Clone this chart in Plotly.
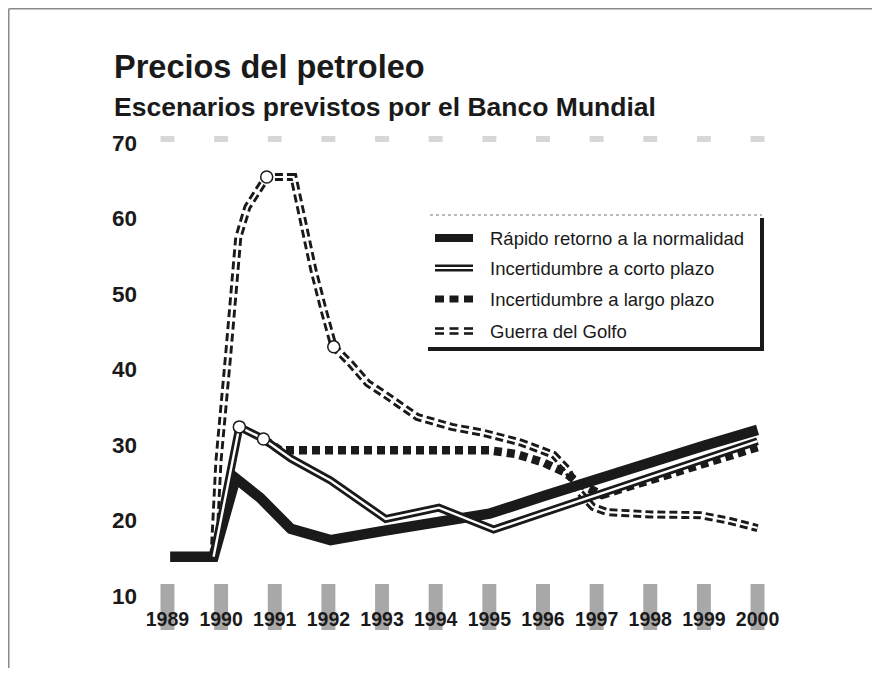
import plotly.graph_objects as go

# ---------------- data ----------------
years = [1989, 1990, 1991, 1992, 1993, 1994, 1995, 1996, 1997, 1998, 1999, 2000]
year_labels = [str(y) for y in years]
y_ticks = [10, 20, 30, 40, 50, 60, 70]

rapido_x = [1989.05, 1989.86, 1990.27, 1990.73, 1991.3, 1992.04, 1993, 1994, 1995, 1996, 1997, 1998, 1999, 2000]
rapido_y = [15.2, 15.2, 25.6, 23.0, 18.9, 17.4, 18.6, 19.6, 20.9, 23.2, 25.5, 27.7, 29.9, 32.0]

corto_x = [1989.86, 1990.34, 1990.79, 1991.3, 1992.04, 1993.07, 1994.06, 1995.08, 1996, 1997, 1998, 1999, 2000]
corto_y = [15.2, 32.4, 30.8, 28.2, 25.3, 20.2, 21.7, 18.8, 21.0, 23.4, 25.8, 28.1, 30.5]

largo_x = [1990.79, 1991.1, 1992, 1993, 1994, 1995, 1995.5, 1996, 1996.4, 1996.7, 1997.1, 1998, 1999, 2000]
largo_y = [30.8, 29.3, 29.3, 29.3, 29.3, 29.3, 28.8, 27.7, 26.4, 24.8, 23.4, 25.4, 27.6, 29.7]

guerra_x = [1989.86, 1989.95, 1990.14, 1990.32, 1990.49, 1990.85, 1991.35, 1991.44, 1991.72, 1991.91,
            1992.1, 1992.4, 1992.73, 1993.03, 1993.66, 1994.3, 1994.9, 1995.6, 1996.2, 1996.45,
            1996.65, 1996.93, 1997.2, 1998, 1998.94, 1999.45, 2000]
guerra_y = [15.2, 27.8, 42.6, 57.5, 61.5, 65.5, 65.5, 62.4, 53.2, 47.9,
            43.0, 40.9, 38.2, 36.8, 33.7, 32.4, 31.6, 30.3, 28.7, 26.8,
            24.0, 21.8, 21.1, 20.8, 20.7, 20.0, 19.0]

circle_corto_x = [1990.34, 1990.79]
circle_corto_y = [32.4, 30.8]
circle_guerra_x = [1990.85, 1992.1]
circle_guerra_y = [65.5, 43.0]

legend_names = ["Rápido retorno a la normalidad", "Incertidumbre a corto plazo",
                "Incertidumbre a largo plazo", "Guerra del Golfo"]

title_text = "Precios del petroleo"
subtitle_text = "Escenarios previstos por el Banco Mundial"

# ---------------- layout geometry ----------------
OFF = 8                      # page offset of the figure (body margin)
W, H = 880 - 2 * OFF, 676 - 2 * OFF
PW, PH = 633, 453
L, T = 146 - OFF, 143 - OFF
R = W - L - PW
B = H - T - PH
FONT = "Liberation Sans, Arial, Helvetica, sans-serif"
INK = "#1a1a1a"


def px(x):
    """page pixel x -> paper coordinate"""
    return (x - OFF - L) / PW


def py(y):
    """page pixel y -> paper coordinate"""
    return (H - B - (y - OFF)) / PH


fig = go.Figure()

# Guerra del Golfo: double dashed
fig.add_trace(go.Scatter(x=guerra_x, y=guerra_y, mode="lines",
                         line=dict(color=INK, width=8, dash="8px,4px"),
                         showlegend=False, hoverinfo="skip"))
fig.add_trace(go.Scatter(x=guerra_x, y=guerra_y, mode="lines",
                         line=dict(color="white", width=2.2),
                         showlegend=False, hoverinfo="skip"))
# Largo plazo: square dots
fig.add_trace(go.Scatter(x=largo_x, y=largo_y, mode="lines",
                         line=dict(color=INK, width=8.5, dash="8px,5px"),
                         showlegend=False, hoverinfo="skip"))
# Rápido retorno: thick solid
fig.add_trace(go.Scatter(x=rapido_x, y=rapido_y, mode="lines",
                         line=dict(color=INK, width=10.5),
                         showlegend=False, hoverinfo="skip"))
# Corto plazo: double line
fig.add_trace(go.Scatter(x=corto_x, y=corto_y, mode="lines",
                         line=dict(color=INK, width=8),
                         showlegend=False, hoverinfo="skip"))
fig.add_trace(go.Scatter(x=corto_x, y=corto_y, mode="lines",
                         line=dict(color="white", width=2.4),
                         showlegend=False, hoverinfo="skip"))
# circles
fig.add_trace(go.Scatter(x=circle_corto_x + circle_guerra_x, y=circle_corto_y + circle_guerra_y,
                         mode="markers",
                         marker=dict(size=12, color="white", line=dict(color=INK, width=1.5)),
                         showlegend=False, hoverinfo="skip"))

shapes = []
# gray blocks at bottom and top of each year
for yv in years:
    shapes.append(dict(type="rect", xref="x", yref="paper", x0=yv - 0.13, x1=yv + 0.13,
                       y0=py(630), y1=py(584), fillcolor="#999999", opacity=0.85,
                       line=dict(width=0), layer="below"))
    shapes.append(dict(type="rect", xref="x", yref="paper", x0=yv - 0.13, x1=yv + 0.13,
                       y0=py(142), y1=py(136), fillcolor="#bdbdbd", opacity=0.6,
                       line=dict(width=0), layer="below"))

# outer frame
shapes.append(dict(type="line", xref="paper", yref="paper", x0=px(8.75), x1=px(8.75), y0=py(8.75), y1=py(670),
                   line=dict(color="#8a8a8a", width=1.5)))
shapes.append(dict(type="line", xref="paper", yref="paper", x0=px(8.75), x1=px(874), y0=py(8.75), y1=py(8.75),
                   line=dict(color="#8a8a8a", width=1.5)))

# legend box
shapes.append(dict(type="line", xref="paper", yref="paper", x0=px(430), x1=px(762), y0=py(215), y1=py(215),
                   line=dict(color="#777", width=1, dash="dot")))
shapes.append(dict(type="line", xref="paper", yref="paper", x0=px(762), x1=px(762), y0=py(218), y1=py(351),
                   line=dict(color=INK, width=4)))
shapes.append(dict(type="line", xref="paper", yref="paper", x0=px(428), x1=px(764), y0=py(349), y1=py(349),
                   line=dict(color=INK, width=4)))

row_y = [238, 268, 299, 331]
sx0, sx1 = 435, 473
# row 1: solid bar
shapes.append(dict(type="rect", xref="paper", yref="paper", x0=px(sx0), x1=px(sx1),
                   y0=py(row_y[0] + 4), y1=py(row_y[0] - 4), fillcolor=INK, line=dict(width=0)))
# row 2: double line
shapes.append(dict(type="rect", xref="paper", yref="paper", x0=px(sx0), x1=px(sx1),
                   y0=py(row_y[1] + 3.5), y1=py(row_y[1] - 3.5), fillcolor=INK, line=dict(width=0)))
shapes.append(dict(type="rect", xref="paper", yref="paper", x0=px(sx0), x1=px(sx1),
                   y0=py(row_y[1] + 1), y1=py(row_y[1] - 1), fillcolor="white", line=dict(width=0)))
# row 3: squares / row 4: double dashes
for k in range(3):
    a = sx0 + k * 14.5
    shapes.append(dict(type="rect", xref="paper", yref="paper", x0=px(a), x1=px(a + 9),
                       y0=py(row_y[2] + 3.5), y1=py(row_y[2] - 3.5), fillcolor=INK, line=dict(width=0)))
    for off in (-2.5, 2.5):
        shapes.append(dict(type="rect", xref="paper", yref="paper", x0=px(a), x1=px(a + 9),
                           y0=py(row_y[3] + off + 1.3), y1=py(row_y[3] + off - 1.3),
                           fillcolor=INK, line=dict(width=0)))

annotations = []
for name, ry in zip(legend_names, row_y):
    annotations.append(dict(text=name, xref="paper", yref="paper", x=px(488), y=py(ry),
                            xanchor="left", yanchor="middle", showarrow=False,
                            font=dict(family=FONT, size=18.5, color=INK)))
annotations.append(dict(text="<b>" + title_text + "</b>", xref="paper", yref="paper",
                        x=px(112), y=py(67), xanchor="left", yanchor="middle", showarrow=False,
                        font=dict(family=FONT, size=32.5, color=INK)))
annotations.append(dict(text="<b>" + subtitle_text + "</b>", xref="paper", yref="paper",
                        x=px(112), y=py(107), xanchor="left", yanchor="middle", showarrow=False,
                        font=dict(family=FONT, size=26.5, color=INK)))

fig.update_layout(
    width=W, height=H,
    margin=dict(l=L, r=R, t=T, b=B),
    paper_bgcolor="white", plot_bgcolor="white",
    showlegend=False,
    shapes=shapes, annotations=annotations,
    xaxis=dict(range=[1988.6, 2000.4], tickvals=years, ticktext=year_labels,
               showgrid=False, zeroline=False, showline=False, ticks="",
               ticklabelstandoff=9,
               tickfont=dict(family=FONT, size=19.5, color=INK, weight="bold"), fixedrange=True),
    yaxis=dict(range=[10, 70], tickvals=y_ticks, showgrid=False, zeroline=False, showline=False,
               ticks="", ticklabelstandoff=8,
               tickfont=dict(family=FONT, size=22.5, color=INK, weight="bold"), fixedrange=True),
)

fig.write_html("out.html")
